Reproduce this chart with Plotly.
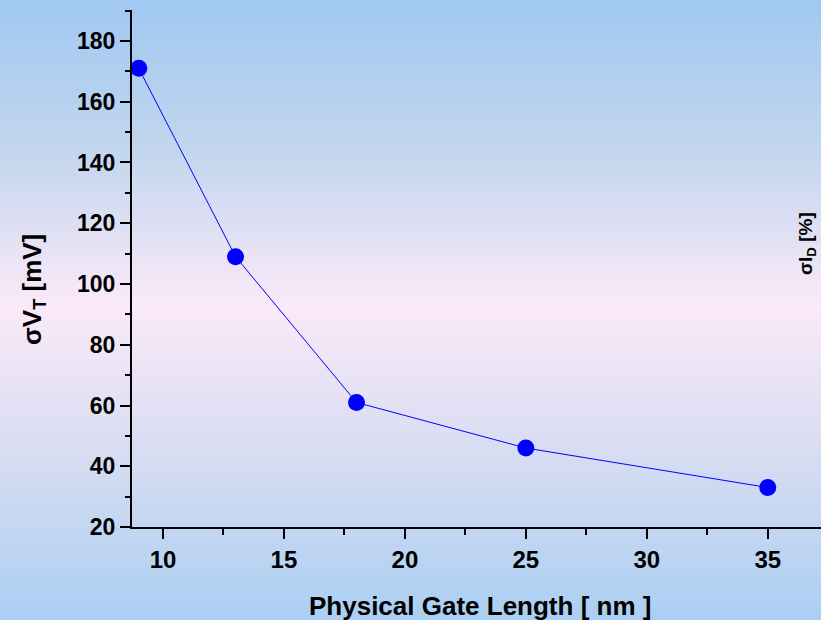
import plotly.graph_objects as go

# Gate length vs. threshold-voltage spread
gate_length_nm = [9, 13, 18, 25, 35]
sigma_vt_mv = [171, 109, 61, 46, 33]

W, H = 821, 620
M_L, M_R, M_T, M_B = 132, 0, 10, 93
plot_w = W - M_L - M_R
plot_h = H - M_T - M_B

# vertical background gradient (pixel row from top, rgb)
stops = [(0, (160, 200, 242)), (150, (194, 214, 238)), (305, (251, 233, 248)),
         (450, (216, 221, 242)), (620, (170, 207, 242))]


def color_at(p):
    for (p0, c0), (p1, c1) in zip(stops[:-1], stops[1:]):
        if p0 <= p <= p1:
            t = (p - p0) / (p1 - p0)
            return "rgb(%d,%d,%d)" % tuple(round(a + (b - a) * t) for a, b in zip(c0, c1))
    return "rgb(%d,%d,%d)" % stops[-1][1]


def py(p):
    return (H - M_B - p) / plot_h


shapes = []
step = 4
for p in range(0, H, step):
    shapes.append(dict(type="rect", xref="paper", yref="paper",
                       x0=-M_L / plot_w - 0.01, x1=1.01,
                       y0=py(p + step + 0.5), y1=py(p),
                       fillcolor=color_at(p + step / 2), line=dict(width=0),
                       layer="below"))

fig = go.Figure()
fig.add_trace(go.Scatter(
    x=gate_length_nm, y=sigma_vt_mv, mode="lines+markers",
    line=dict(color="#0000ff", width=1),
    marker=dict(color="#0000ff", size=17),
    showlegend=False, cliponaxis=False,
))

font = dict(family="Liberation Sans, Arial, sans-serif", color="black", weight="bold")

fig.update_layout(
    width=W, height=H,
    margin=dict(l=M_L, r=M_R, t=M_T, b=M_B, pad=0),
    paper_bgcolor="rgb(205,215,240)",
    plot_bgcolor="rgba(0,0,0,0)",
    shapes=shapes,
    xaxis=dict(range=[8.72, 37.2], dtick=5, tick0=0, showgrid=False, zeroline=False,
               showline=True, linecolor="black", linewidth=2,
               ticks="outside", ticklen=10, tickwidth=2, tickcolor="black",
               tickfont=dict(size=24, **font),
               minor=dict(dtick=2.5, tick0=0, ticks="outside", ticklen=6,
                          tickwidth=2, tickcolor="black", showgrid=False)),
    yaxis=dict(range=[20, 190.2], dtick=20, tick0=0, showgrid=False, zeroline=False,
               showline=True, linecolor="black", linewidth=2,
               ticks="outside", ticklen=10, tickwidth=2, tickcolor="black",
               tickfont=dict(size=23, **font),
               minor=dict(dtick=10, tick0=0, ticks="outside", ticklen=5,
                          tickwidth=2, tickcolor="black", showgrid=False)),
    annotations=[
        dict(text="Physical Gate Length [ nm ]", xref="paper", yref="paper",
             x=(480 - M_L) / plot_w, y=py(606), xanchor="center", yanchor="middle",
             showarrow=False, font=dict(size=26, **font)),
        dict(text="σV<sub>T</sub> [mV]", xref="paper", yref="paper",
             x=(33 - M_L) / plot_w, y=py(290), xanchor="center", yanchor="middle",
             textangle=-90, showarrow=False, font=dict(size=26, **font)),
        dict(text="σI<sub>D</sub> [%]", xref="paper", yref="paper",
             x=1.0, y=py(244), xanchor="right", yanchor="middle",
             textangle=-90, showarrow=False, font=dict(size=19, **font)),
    ],
)

fig.write_html("out.html")
